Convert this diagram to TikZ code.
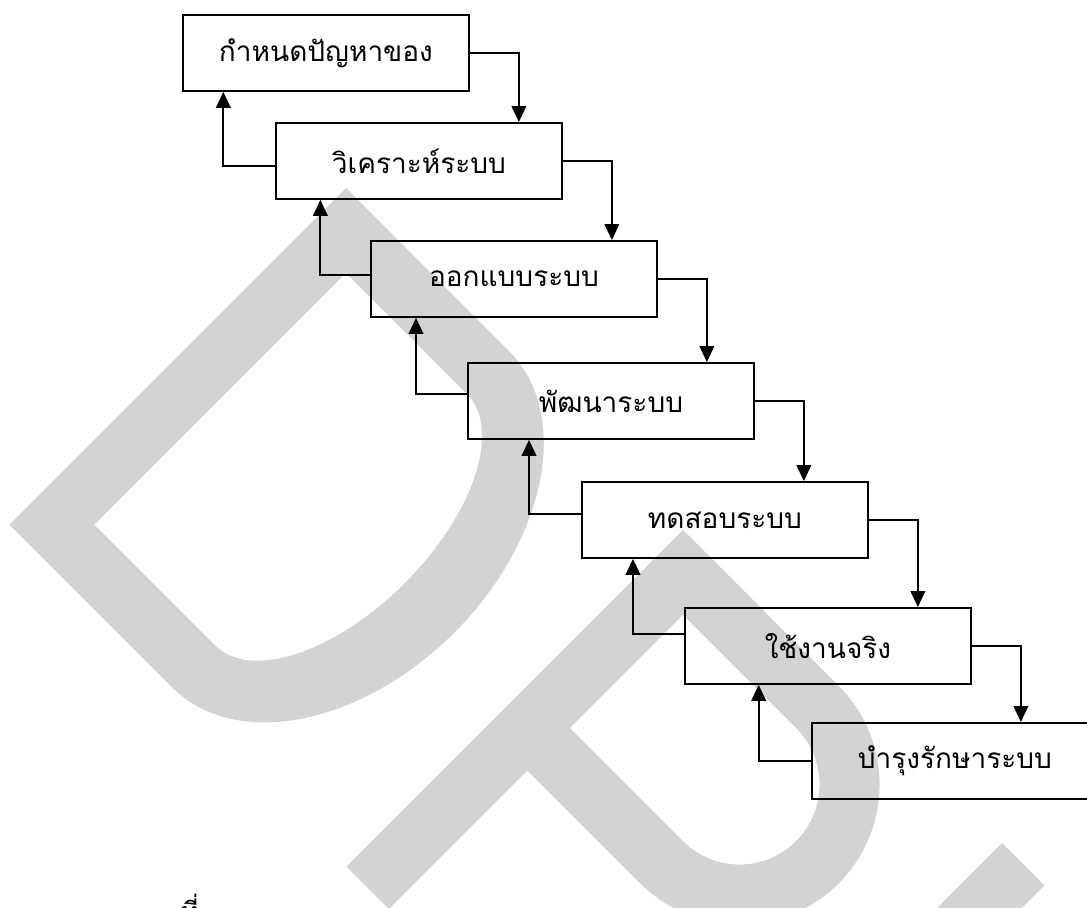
\documentclass[tikz,border=0pt]{standalone}
\usepackage{fontspec}
\newfontfamily\thaifont[Script=Thai]{Loma}
\usetikzlibrary{arrows.meta}
\definecolor{wm}{RGB}{211,211,211}
\begin{document}
\begin{tikzpicture}[x=0.75pt,y=-0.75pt,
  stagebox/.style={draw,line width=1.4pt,minimum width=214.5pt,minimum height=57pt,inner sep=0pt,anchor=north west,font=\thaifont\fontsize{21}{25}\selectfont},
  arr/.style={line width=1.4pt,-{Triangle[length=12pt,width=11pt]}}]
\useasboundingbox (0,0) rectangle (1087,907);
% watermark letter D (rotated)
\fill[wm,even odd rule]
  (346,188) -- (9.4,524.6) -- (172.8,687.9)
  -- plot[domain=180:0,samples=60,variable=\t]
     ({346+(231+160*sin(\t)-238+238*cos(\t))*0.7071},{188+(231+160*sin(\t)+238-238*cos(\t))*0.7071})
  -- cycle
  (346,272.9) -- (94.3,524.6) -- (215.2,645.5)
  -- plot[domain=180:0,samples=60,variable=\t]
     ({346+(231+90*sin(\t)-238+178*cos(\t))*0.7071},{188+(231+90*sin(\t)+238-178*cos(\t))*0.7071})
  -- cycle;
% watermark letter P (rotated)
\fill[wm,even odd rule]
  (683,530) -- (346.4,866.6) -- (388.8,909) -- (527.4,770.4) -- (640.6,883.6)
  -- plot[domain=180:0,samples=60,variable=\t]
     ({683+(220+140*sin(\t)-140+140*cos(\t))*0.7071},{530+(220+140*sin(\t)+140-140*cos(\t))*0.7071})
  -- cycle
  (683,614.9) -- (569.9,728) -- (683,841.1)
  -- plot[domain=180:0,samples=60,variable=\t]
     ({683+(220+80*sin(\t)-140+80*cos(\t))*0.7071},{530+(220+80*sin(\t)+140-80*cos(\t))*0.7071})
  -- cycle;
% watermark letter U (top of its arm)
\fill[wm] (1002,843) -- (1044.4,885.4) -- (973.7,956) -- (931.3,913.7) -- cycle;
% boxes
\node[stagebox] (b1) at (182,14) {กำหนดปัญหาของ};
\node[stagebox] (b2) at (275,122) {วิเคราะห์ระบบ};
\node[stagebox] (b3) at (370,240) {ออกแบบระบบ};
\node[stagebox] (b4) at (467,362) {พัฒนาระบบ};
\node[stagebox] (b5) at (581,481) {ทดสอบระบบ};
\node[stagebox] (b6) at (684,607) {ใช้งานจริง};
\node[stagebox] (b7) at (811,722) {บำรุงรักษาระบบ};
% forward arrows
\foreach \a/\b in {b1/b2,b2/b3,b3/b4,b4/b5,b5/b6,b6/b7}
  \draw[arr] (\a.east) -| ([xshift=36.75pt]\a.east |- \b.north);
% feedback arrows
\draw[arr] ([yshift=-4pt]b2.west) -| ([xshift=31pt]b1.south west);
\draw[arr] ([yshift=3pt]b3.west) -| ([xshift=34pt]b2.south west);
\draw[arr] ([yshift=5pt]b4.west) -| ([xshift=34.5pt]b3.south west);
\draw[arr] ([yshift=4.5pt]b5.west) -| ([xshift=46.5pt]b4.south west);
\draw[arr] ([yshift=9pt]b6.west) -| ([xshift=39pt]b5.south west);
\draw[arr] ([yshift=0pt]b7.west) -| ([xshift=56pt]b6.south west);
% caption fragment cut by the lower edge
\node[anchor=base,inner sep=0pt,font=\thaifont\fontsize{20}{24}\selectfont] (cap) at (190,921) {ที่};
\end{tikzpicture}
\end{document}
